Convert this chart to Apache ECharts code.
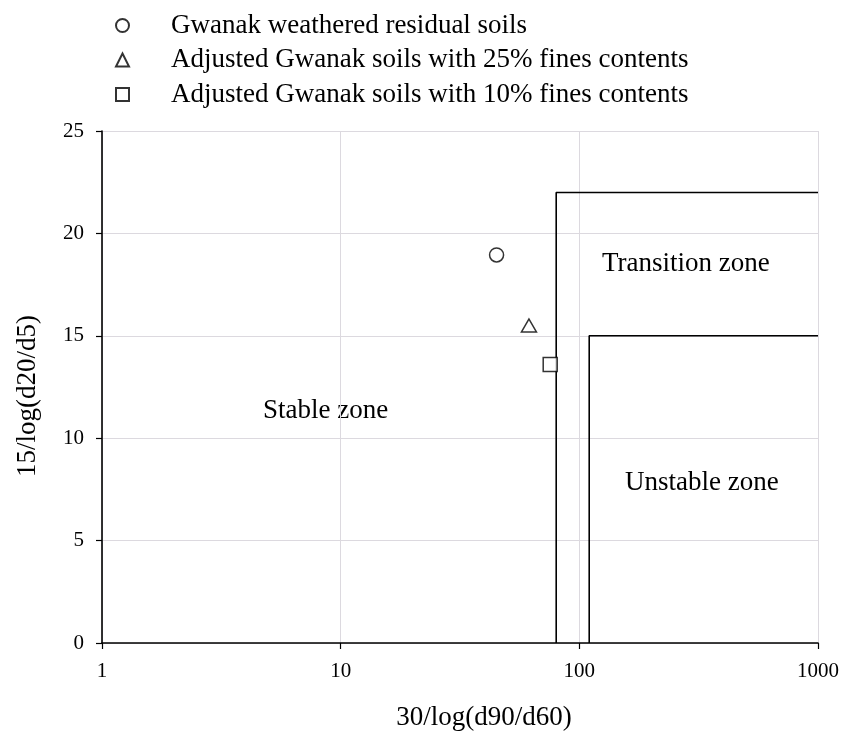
<!DOCTYPE html>
<html>
<head>
<meta charset="utf-8">
<script src="https://cdn.jsdelivr.net/npm/echarts@6/dist/echarts.min.js"></script>
<style>
  html, body { margin: 0; padding: 0; background: #fff; }
  #chart { width: 843px; height: 739px; }
</style>
</head>
<body>
<div id="chart"></div>
<script>
// Soil samples: 30/log(d90/d60) vs 15/log(d20/d5)
const seriesNames = [
  'Gwanak weathered residual soils',
  'Adjusted Gwanak soils with 25% fines contents',
  'Adjusted Gwanak soils with 10% fines contents'
];
const seriesSymbols = ['circle', 'triangle', 'rect'];
const sampleX = [45, 61.5, 75.5];
const sampleY = [18.95, 15.5, 13.6];

// Zone boundaries (x, y) pairs
const transitionBoundary = [[80, 0], [80, 22], [1000, 22]];
const unstableBoundary = [[110, 0], [110, 15], [1000, 15]];

const xTicks = [1, 10, 100, 1000];
const yTicks = [0, 5, 10, 15, 20, 25];

const zoneLabels = ['Transition zone', 'Stable zone', 'Unstable zone'];

const FONT = '"Liberation Serif", "Times New Roman", serif';

const chart = echarts.init(document.getElementById('chart'), null, { renderer: 'canvas' });

const markStyle = { color: '#fff', borderColor: '#000', borderWidth: 1.5 };

const scatterSeries = seriesNames.map((name, i) => ({
  name: name,
  type: 'scatter',
  symbol: seriesSymbols[i],
  symbolSize: i === 1 ? [15, 13] : 14,
  itemStyle: markStyle,
  data: [[sampleX[i], sampleY[i]]],
  z: 5
}));

const boundarySeries = [transitionBoundary, unstableBoundary].map(d => ({
  type: 'line',
  data: d,
  symbol: 'none',
  lineStyle: { color: '#000', width: 1.6 },
  silent: true,
  z: 3
}));

const zoneText = (text, x, y) => ({
  type: 'text',
  x: x,
  y: y,
  style: { text: text, font: '27px ' + FONT, fill: '#000', verticalAlign: 'middle', align: 'left' }
});

chart.setOption({
  backgroundColor: '#fff',
  animation: false,
  textStyle: { fontFamily: FONT },
  grid: { left: 102, right: 25, top: 131, bottom: 96, containLabel: false },
  legend: {
    data: seriesNames.map((n, i) => ({ name: n, icon: seriesSymbols[i] })),
    orient: 'vertical',
    left: 110,
    top: 7,
    itemGap: 7.5,
    itemWidth: 13,
    itemHeight: 13,
    textStyle: { fontFamily: FONT, fontSize: 27, lineHeight: 27, color: '#000', padding: [0, 0, 0, 37] },
    selectedMode: false
  },
  xAxis: {
    type: 'log',
    logBase: 10,
    min: xTicks[0],
    max: xTicks[xTicks.length - 1],
    name: '30/log(d90/d60)',
    nameLocation: 'middle',
    nameGap: 61,
    nameTextStyle: { fontFamily: FONT, fontSize: 27, color: '#000', padding: [0, 0, 0, 48] },
    axisLine: { lineStyle: { color: '#000', width: 1.6 } },
    axisTick: { show: true, length: 6, lineStyle: { color: '#000', width: 1.2 } },
    minorTick: { show: false },
    axisLabel: { fontFamily: FONT, fontSize: 21, color: '#000', margin: 18, formatter: v => String(v) },
    splitLine: { show: true, lineStyle: { color: '#dcd9df', width: 1 } }
  },
  yAxis: {
    type: 'value',
    min: yTicks[0],
    max: yTicks[yTicks.length - 1],
    interval: 5,
    name: '15/log(d20/d5)',
    nameLocation: 'middle',
    nameGap: 61,
    nameRotate: 90,
    nameTextStyle: { fontFamily: FONT, fontSize: 27, color: '#000', padding: [0, 18, 0, 0] },
    axisLine: { show: true, lineStyle: { color: '#000', width: 1.6 } },
    axisTick: { show: true, length: 6, lineStyle: { color: '#000', width: 1.2 } },
    axisLabel: { fontFamily: FONT, fontSize: 21, color: '#000', margin: 18 },
    splitLine: { show: true, lineStyle: { color: '#dcd9df', width: 1 } }
  },
  graphic: [
    zoneText(zoneLabels[0], 602, 264),
    zoneText(zoneLabels[1], 263, 411),
    zoneText(zoneLabels[2], 625, 483)
  ],
  series: [...boundarySeries, ...scatterSeries]
});
</script>
</body>
</html>
